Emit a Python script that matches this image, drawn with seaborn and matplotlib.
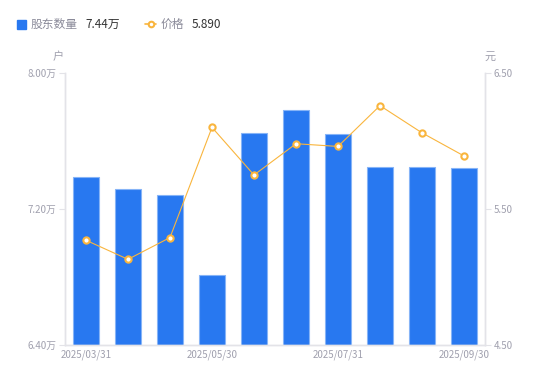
import numpy as np
import pandas as pd
import matplotlib
matplotlib.use("Agg")
import matplotlib.pyplot as plt
import seaborn as sns

# report dates (only every third one is labelled on the axis)
dates = ["2025/03/31", "2025/04/10", "2025/04/30", "2025/05/30", "2025/06/10",
         "2025/06/30", "2025/07/31", "2025/08/20", "2025/08/31", "2025/09/30"]
# shareholder count, in 万户
holders = [7.39, 7.32, 7.28, 6.81, 7.65, 7.78, 7.64, 7.45, 7.45, 7.44]
# share price, 元
price = [5.27, 5.13, 5.29, 6.10, 5.75, 5.98, 5.96, 6.26, 6.06, 5.89]

left_ticks = [6.40, 7.20, 8.00]
right_ticks = [4.50, 5.50, 6.50]

bar_color = "#2878F0"
line_color = "#F9B53D"
axis_color = "#E3E3E8"
tick_color = "#A0A0AE"

sns.set_theme(style="white")
plt.rcParams["font.family"] = ["Noto Sans CJK SC", "DejaVu Sans"]

df = pd.DataFrame({"date": dates, "holders": holders, "price": price, "pos": np.arange(len(dates))})

fig = plt.figure(figsize=(5.5, 3.81), dpi=100)
ax = fig.add_axes([65 / 550, 1 - 345 / 381, 420 / 550, 272 / 381])

sns.barplot(data=df, x="date", y="holders", color=bar_color, width=0.6,
            edgecolor="#86B4F7", linewidth=0.8, saturation=1, ax=ax)
ax.set_ylim(6.40, 8.00)
ax.set_xlim(-0.5, len(dates) - 0.5)
ax.set_yticks(left_ticks)
ax.set_yticklabels([f"{v:.2f}万" for v in left_ticks])
ax.set_xticks([0, 3, 6, 9])
ax.set_xticklabels([dates[i] for i in [0, 3, 6, 9]])
ax.set_xlabel("")
ax.set_ylabel("")

ax2 = ax.twinx()
sns.lineplot(data=df, x="pos", y="price", color=line_color, linewidth=0.8,
             marker="o", markersize=4.5, markerfacecolor="white",
             markeredgecolor=line_color, markeredgewidth=1.5, ax=ax2)
ax2.set_ylim(4.50, 6.50)
ax2.set_yticks(right_ticks)
ax2.set_yticklabels([f"{v:.2f}" for v in right_ticks])
ax2.set_xlabel("")
ax2.set_ylabel("")

for a in (ax, ax2):
    a.spines["top"].set_visible(False)
    for side in ("left", "right", "bottom"):
        a.spines[side].set_color(axis_color)
        a.spines[side].set_linewidth(1)
    a.tick_params(axis="y", colors=axis_color, labelcolor=tick_color, labelsize=7,
                  length=4, width=0.8, pad=2, direction="out")
    a.tick_params(axis="x", length=0, labelcolor=tick_color, labelsize=7, pad=3)
ax.tick_params(axis="y", left=True, right=False)
ax2.tick_params(axis="y", left=False, right=True)

# unit labels
fig.text(58 / 550, 1 - 57 / 381, "户", fontsize=8, color=tick_color, ha="center", va="center")
fig.text(490 / 550, 1 - 57 / 381, "元", fontsize=8, color=tick_color, ha="center", va="center")

# legend row
fig.patches.append(plt.Rectangle((17 / 550, 1 - 29 / 381), 9 / 550, 9 / 381,
                                 transform=fig.transFigure, color=bar_color))
fig.text(31 / 550, 1 - 24 / 381, "股东数量", fontsize=8.5, color="#8A8A99", va="center")
fig.text(85 / 550, 1 - 24 / 381, f"{holders[-1]:.2f}万", fontsize=8.5, color="#333333", va="center")
fig.lines.append(plt.Line2D([145 / 550, 156 / 550], [1 - 24 / 381] * 2, transform=fig.transFigure,
                            color=line_color, linewidth=1.2))
fig.lines.append(plt.Line2D([150.5 / 550], [1 - 24 / 381], transform=fig.transFigure,
                            color=line_color, marker="o", markersize=4, markerfacecolor="white",
                            markeredgewidth=1.5, linestyle="none"))
fig.text(161 / 550, 1 - 24 / 381, "价格", fontsize=8.5, color="#8A8A99", va="center")
fig.text(192 / 550, 1 - 24 / 381, f"{price[-1]:.3f}", fontsize=8.5, color="#333333", va="center")

fig.savefig("out.png", dpi=100)
